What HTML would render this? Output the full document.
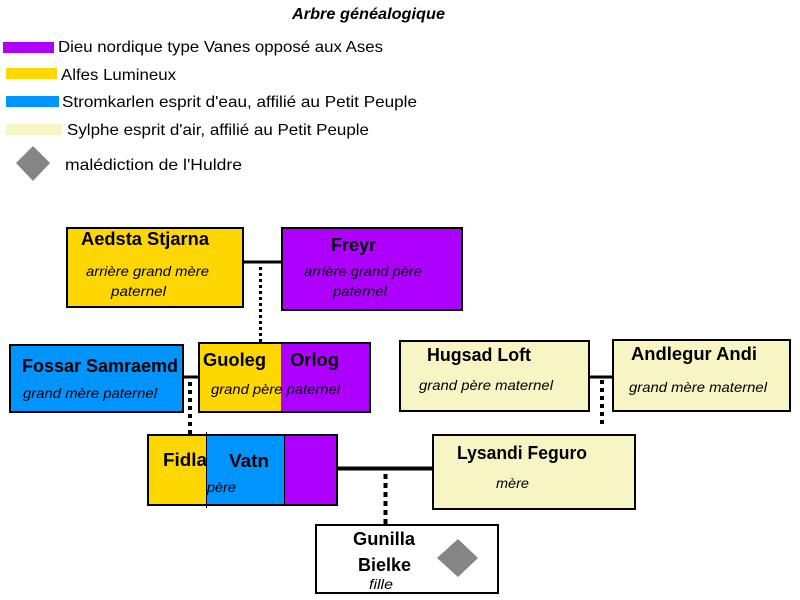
<!DOCTYPE html>
<html lang="fr"><head><meta charset="utf-8"><title>Arbre généalogique</title>
<style>html,body{margin:0;padding:0;background:#fff}svg{display:block}
text{font-family:"Liberation Sans",sans-serif;fill:#000}
.l{font-size:16px}.n{font-size:18px;font-weight:bold}.s{font-size:14px;font-style:italic}</style></head>
<body>
<svg width="800" height="600" viewBox="0 0 800 600" xmlns="http://www.w3.org/2000/svg">
<text x="292" y="19" font-size="16" font-weight="bold" font-style="italic" textLength="153" lengthAdjust="spacingAndGlyphs">Arbre généalogique</text>
<rect x="3" y="42" width="51" height="11" fill="#ae00ff"/>
<rect x="6" y="68" width="51" height="11" fill="#ffd700"/>
<rect x="6" y="96" width="53" height="11" fill="#0094ff"/>
<rect x="6" y="124" width="56" height="11" fill="#f8f5c4"/>
<polygon points="33,146 50,163 33,181 16,163" fill="#858585"/>
<text class="l" x="58" y="52" textLength="325" lengthAdjust="spacingAndGlyphs">Dieu nordique type Vanes opposé aux Ases</text>
<text class="l" x="61" y="80" textLength="115" lengthAdjust="spacingAndGlyphs">Alfes Lumineux</text>
<text class="l" x="62" y="107" textLength="355" lengthAdjust="spacingAndGlyphs">Stromkarlen esprit d'eau, affilié au Petit Peuple</text>
<text class="l" x="67" y="135" textLength="302" lengthAdjust="spacingAndGlyphs">Sylphe esprit d'air, affilié au Petit Peuple</text>
<text class="l" x="65" y="170" textLength="177" lengthAdjust="spacingAndGlyphs">malédiction de l'Huldre</text>

<g stroke="#000" fill="none">
<path d="M243 262H283" stroke-width="3"/>
<path d="M260.500 267V343" stroke-width="3" stroke-dasharray="3 3"/>
<path d="M183 377H199" stroke-width="3"/>
<path d="M190 382V435" stroke-width="4" stroke-dasharray="4 4"/>
<path d="M589 377H615" stroke-width="3"/>
<path d="M602 380V428" stroke-width="4" stroke-dasharray="4 4"/>
<path d="M337 468.500H434" stroke-width="4"/>
<path d="M385.500 474V525" stroke-width="4" stroke-dasharray="5 4"/>
</g>

<rect x="67" y="228" width="176" height="79" fill="#ffd700" stroke="#000" stroke-width="2"/>
<rect x="282" y="228" width="180" height="82" fill="#ae00ff" stroke="#000" stroke-width="2"/>
<rect x="10" y="345" width="173" height="67" fill="#0094ff" stroke="#000" stroke-width="2"/>
<rect x="199" y="343" width="82" height="69" fill="#ffd700"/>
<rect x="281" y="343" width="89" height="69" fill="#ae00ff"/>
<rect x="199" y="343" width="171" height="69" fill="none" stroke="#000" stroke-width="2"/>
<rect x="400" y="341" width="189" height="70" fill="#f8f5c4" stroke="#000" stroke-width="2"/>
<rect x="613" y="340" width="177" height="71" fill="#f8f5c4" stroke="#000" stroke-width="2"/>
<rect x="148" y="435" width="58" height="70" fill="#ffd700"/>
<rect x="206" y="435" width="78" height="70" fill="#0094ff"/>
<rect x="284" y="435" width="53" height="70" fill="#ae00ff"/>
<rect x="148" y="435" width="189" height="70" fill="none" stroke="#000" stroke-width="2"/>
<path d="M206.500 432V508M284.500 435V506" stroke="#000" stroke-width="1"/>
<rect x="433" y="435" width="202" height="74" fill="#f8f5c4" stroke="#000" stroke-width="2"/>
<rect x="316" y="525" width="182" height="68" fill="#fff" stroke="#000" stroke-width="2"/>
<polygon points="458,539 478,558 458,577 437,558" fill="#858585"/>

<text class="n" x="81" y="245" textLength="128" lengthAdjust="spacingAndGlyphs">Aedsta Stjarna</text>
<text class="s" x="86" y="276" textLength="123" lengthAdjust="spacingAndGlyphs">arrière grand mère</text>
<text class="s" x="111" y="296" textLength="55" lengthAdjust="spacingAndGlyphs">paternel</text>
<text class="n" x="331" y="251" textLength="45" lengthAdjust="spacingAndGlyphs">Freyr</text>
<text class="s" x="304" y="276" textLength="118" lengthAdjust="spacingAndGlyphs">arrière grand père</text>
<text class="s" x="333" y="296" textLength="54" lengthAdjust="spacingAndGlyphs">paternel</text>
<text class="n" x="22" y="372" textLength="156" lengthAdjust="spacingAndGlyphs">Fossar Samraemd</text>
<text class="s" x="23" y="398" textLength="134" lengthAdjust="spacingAndGlyphs">grand mère paternel</text>
<text class="n" x="203" y="366" textLength="63" lengthAdjust="spacingAndGlyphs">Guoleg</text>
<text class="n" x="290" y="366" textLength="49" lengthAdjust="spacingAndGlyphs">Orlog</text>
<text class="s" x="211" y="394" textLength="129" lengthAdjust="spacingAndGlyphs">grand père paternel</text>
<text class="n" x="427" y="361" textLength="104" lengthAdjust="spacingAndGlyphs">Hugsad Loft</text>
<text class="s" x="419" y="390" textLength="134" lengthAdjust="spacingAndGlyphs">grand père maternel</text>
<text class="n" x="631" y="360" textLength="126" lengthAdjust="spacingAndGlyphs">Andlegur Andi</text>
<text class="s" x="629" y="392" textLength="138" lengthAdjust="spacingAndGlyphs">grand mère maternel</text>
<text class="n" x="163" y="466" textLength="44" lengthAdjust="spacingAndGlyphs">Fidla</text>
<text class="n" x="229" y="467" textLength="40" lengthAdjust="spacingAndGlyphs">Vatn</text>
<text class="s" x="207" y="492" textLength="29" lengthAdjust="spacingAndGlyphs">père</text>
<text class="n" x="457" y="459" textLength="130" lengthAdjust="spacingAndGlyphs">Lysandi Feguro</text>
<text class="s" x="496" y="488" textLength="33" lengthAdjust="spacingAndGlyphs">mère</text>
<text class="n" x="353" y="545" textLength="62" lengthAdjust="spacingAndGlyphs">Gunilla</text>
<text class="n" x="358" y="571" textLength="53" lengthAdjust="spacingAndGlyphs">Bielke</text>
<text class="s" x="369" y="589" textLength="24" lengthAdjust="spacingAndGlyphs">fille</text>
</svg>
</body></html>
